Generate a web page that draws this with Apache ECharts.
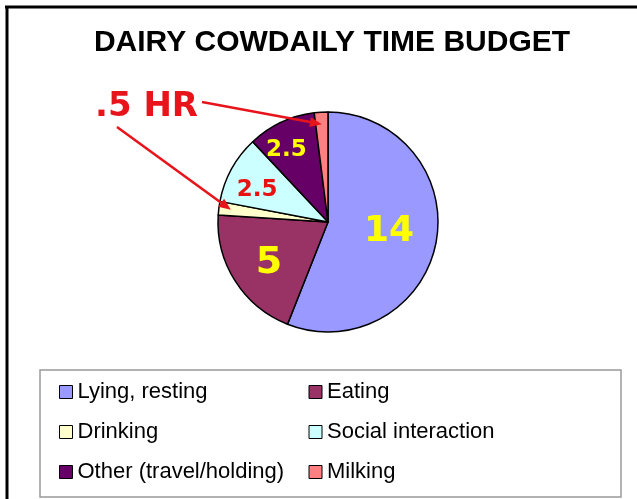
<!DOCTYPE html>
<html>
<head>
<meta charset="utf-8">
<script src="https://cdn.jsdelivr.net/npm/echarts@6/dist/echarts.min.js"></script>
<style>
html,body{margin:0;padding:0;background:#fff;}
#main{width:637px;height:499px;}
</style>
</head>
<body>
<div id="main"></div>
<script>
const categories = ['Lying, resting','Eating','Drinking','Social interaction','Other (travel/holding)','Milking'];
const hours = [14, 5, 0.5, 2.5, 2.5, 0.5];
const titleText = 'DAIRY COWDAILY TIME BUDGET';
const calloutText = '.5 HR';
const calloutIdx = [5, 2];

const colors = ['#9999ff','#993366','#ffffcc','#ccffff','#660066','#ff8080'];
const labelShow = [true, true, false, true, true, false];
const labelColor = ['#ffff00','#ffff00','#ffff00','#e81010','#ffff00','#ffff00'];
const labelSize = [36, 38, 20, 23, 23, 20];
const labelOffset = [[4,-1],[-10,10],[0,0],[-20,-4],[-17,-19],[0,0]];

const CX = 328, CY = 222, R = 110;

const chart = echarts.init(document.getElementById('main'), null, {renderer:'canvas'});

const data = categories.map((c,i)=>({
  name: c,
  value: hours[i],
  itemStyle: {color: colors[i]},
  label: {
    show: labelShow[i],
    color: labelColor[i],
    fontSize: labelSize[i],
    offset: labelOffset[i]
  }
}));

// arrows to callout slices computed from data angles
const total = hours.reduce((a,b)=>a+b,0);
function midAngle(idx){
  let cum = 0;
  for (let i=0;i<idx;i++) cum += hours[i];
  return (cum + hours[idx]/2) / total * 2 * Math.PI; // clockwise from top
}
const arrowStarts = [[202,102],[117,127]];
const red = '#e8141b';
const graphics = [
  {type:'line', z:100, shape:{x1:5,y1:7,x2:637,y2:7}, style:{stroke:'#000', lineWidth:3}},
  {type:'line', z:100, shape:{x1:7,y1:6,x2:7,y2:499}, style:{stroke:'#000', lineWidth:3}},
  {type:'text', z:100, x:95, y:107, style:{text:calloutText, fill:red, font:'bold 34px "DejaVu Sans"', textVerticalAlign:'middle'}}
];
calloutIdx.forEach((idx,k)=>{
  const a = midAngle(idx);
  const tx = CX + 0.89*R*Math.sin(a);
  const ty = CY - 0.89*R*Math.cos(a);
  const [sx,sy] = arrowStarts[k];
  const dx = tx - sx, dy = ty - sy;
  const L = Math.hypot(dx,dy);
  const ux = dx/L, uy = dy/L;
  const hl = 12, hw = 5;
  const bx = tx - ux*hl, by = ty - uy*hl;
  graphics.push({type:'line', z:100, shape:{x1:sx,y1:sy,x2:bx,y2:by}, style:{stroke:red, lineWidth:2.5}});
  graphics.push({type:'polygon', z:100, shape:{points:[[tx,ty],[bx - uy*hw, by + ux*hw],[bx + uy*hw, by - ux*hw]]}, style:{fill:red}});
});

chart.setOption({
  animation:false,
  backgroundColor:'#fff',
  title:{
    text: titleText,
    left: 327,
    textAlign:'center',
    top: 23,
    textStyle:{fontFamily:'Liberation Sans', fontWeight:'bold', fontSize:30, color:'#000'}
  },
  legend:{
    data: categories,
    left: 40,
    top: 370,
    orient:'horizontal',
    width: 500,
    padding:[5, 69, 8, 19],
    itemGap: 6,
    itemWidth: 13,
    itemHeight: 13,
    icon:'rect',
    borderColor:'#999',
    borderWidth:1.5,
    itemStyle:{borderColor:'#000', borderWidth:1},
    selectedMode:false,
    textStyle:{fontFamily:'Liberation Sans', fontSize:22, color:'#000', width:225, lineHeight:34}
  },
  series:[{
    type:'pie',
    center:[CX, CY],
    radius:[0, R],
    startAngle:90,
    clockwise:true,
    silent:true,
    avoidLabelOverlap:false,
    itemStyle:{borderColor:'#000', borderWidth:1.5},
    label:{position:'inside', fontFamily:'DejaVu Sans', fontWeight:'bold', formatter:'{c}'},
    labelLine:{show:false},
    emphasis:{disabled:true},
    data: data
  }],
  graphic: graphics
});
</script>
</body>
</html>
